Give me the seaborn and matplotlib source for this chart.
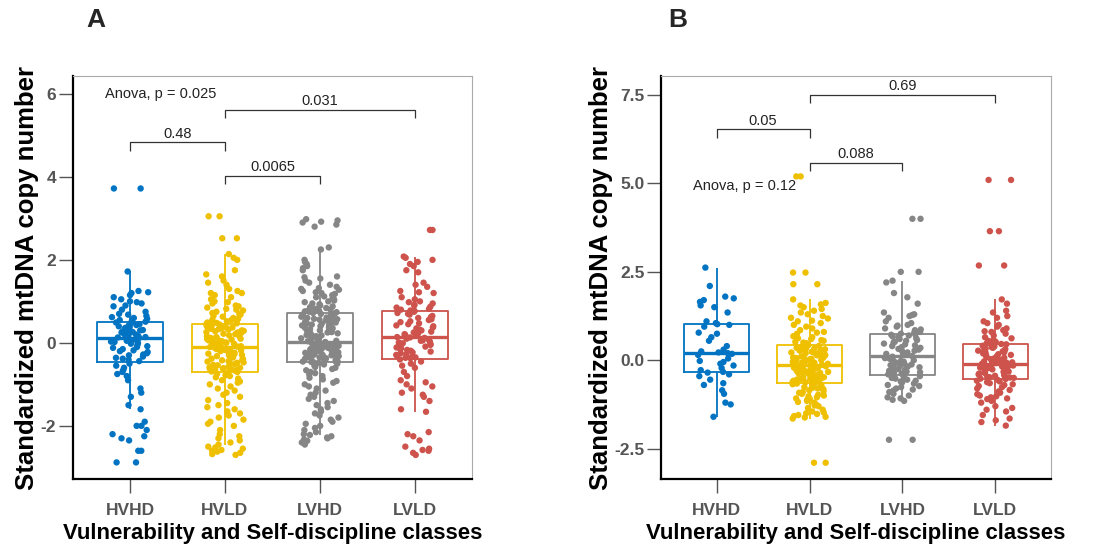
import numpy as np
import pandas as pd
import matplotlib
matplotlib.use("Agg")
import matplotlib.pyplot as plt
import seaborn as sns

classes = ["HVHD", "HVLD", "LVHD", "LVLD"]
colors = ["#0073C2", "#EFC000", "#868686", "#CD534C"]

# ---------------- Panel A values ----------------
a_hvhd = [
    3.72, 3.72, 1.72, 1.25, 1.22, 1.20, 1.15, 1.10, 1.05, 1.00,
    0.98, 0.95, 0.90, 0.88, 0.80, 0.75, 0.70, 0.68, 0.65, 0.62,
    0.60, 0.58, 0.55, 0.53, 0.51,
    0.49, 0.47, 0.45, 0.43, 0.42, 0.40, 0.38, 0.36, 0.35, 0.33,
    0.31, 0.30, 0.28, 0.26, 0.25, 0.23, 0.22, 0.20, 0.19, 0.18,
    0.16, 0.15, 0.14, 0.13, 0.12,
    0.11, 0.10, 0.08, 0.06, 0.05, 0.03, 0.02, 0.00, -0.02, -0.05,
    -0.08, -0.10, -0.12, -0.15, -0.18, -0.20, -0.22, -0.25, -0.28, -0.30,
    -0.33, -0.36, -0.38, -0.41, -0.44,
    -0.50, -0.55, -0.60, -0.65, -0.70, -0.75, -0.80, -0.90, -1.10, -1.20,
    -1.30, -1.50, -1.60, -1.90, -2.00, -2.00, -2.10, -2.20, -2.25, -2.30,
    -2.35, -2.60, -2.60, -2.88, -2.88,
]
a_hvld = [
    3.05, 3.05, 2.52, 2.52, 2.14, 2.05, 2.00, 1.75, 1.65, 1.60,
    1.50, 1.45, 1.40, 1.30, 1.25, 1.20, 1.20, 1.15, 1.10, 1.05,
    1.00, 0.98, 0.95, 0.90, 0.88, 0.85, 0.82, 0.80, 0.78, 0.75,
    0.72, 0.70, 0.68, 0.65, 0.63, 0.60, 0.58, 0.56, 0.55, 0.53,
    0.52, 0.50, 0.49, 0.48, 0.47,
    0.46, 0.45, 0.44, 0.42, 0.41, 0.40, 0.38, 0.37, 0.36, 0.34,
    0.33, 0.32, 0.30, 0.29, 0.28, 0.26, 0.25, 0.24, 0.22, 0.21,
    0.20, 0.18, 0.17, 0.16, 0.14, 0.13, 0.12, 0.10, 0.09, 0.08,
    0.06, 0.05, 0.04, 0.02, 0.01, 0.00, -0.01, -0.02, -0.03, -0.04,
    -0.05, -0.06, -0.07, -0.08, -0.09,
    -0.10, -0.11, -0.12, -0.14, -0.15, -0.17, -0.18, -0.20, -0.21, -0.23,
    -0.24, -0.26, -0.27, -0.29, -0.30, -0.32, -0.33, -0.35, -0.36, -0.38,
    -0.39, -0.41, -0.42, -0.44, -0.45, -0.47, -0.48, -0.50, -0.51, -0.53,
    -0.54, -0.56, -0.57, -0.59, -0.60, -0.61, -0.62, -0.63, -0.64, -0.65,
    -0.66, -0.67, -0.68, -0.69, -0.70,
    -0.72, -0.75, -0.78, -0.80, -0.83, -0.86, -0.90, -0.93, -0.96, -1.00,
    -1.05, -1.10, -1.15, -1.20, -1.25, -1.30, -1.38, -1.45, -1.50, -1.55,
    -1.60, -1.65, -1.70, -1.75, -1.80, -1.85, -1.90, -1.95, -2.00, -2.10,
    -2.20, -2.25, -2.30, -2.35, -2.40, -2.45, -2.50, -2.52, -2.55, -2.58,
    -2.60, -2.62, -2.65, -2.68, -2.70,
]
a_lvhd = [
    2.98, 2.95, 2.92, 2.90, 2.85, 2.80, 2.30, 2.25, 2.00, 1.95,
    1.90, 1.85, 1.80, 1.75, 1.60, 1.58, 1.55, 1.50, 1.45, 1.40,
    1.35, 1.32, 1.30, 1.28, 1.25, 1.22, 1.20, 1.18, 1.15, 1.12,
    1.10, 1.08, 1.05, 1.02, 1.00, 0.98, 0.95, 0.93, 0.90, 0.88,
    0.86, 0.84, 0.82, 0.80, 0.78, 0.77, 0.76, 0.75, 0.74, 0.72,
    0.71, 0.70, 0.68, 0.67, 0.65, 0.64, 0.63, 0.61, 0.60, 0.58,
    0.57, 0.56, 0.54, 0.53, 0.51, 0.50, 0.49, 0.47, 0.46, 0.44,
    0.43, 0.42, 0.40, 0.39, 0.37, 0.36, 0.35, 0.33, 0.32, 0.30,
    0.29, 0.28, 0.26, 0.25, 0.23, 0.22, 0.21, 0.19, 0.18, 0.16,
    0.15, 0.14, 0.12, 0.11, 0.09, 0.08, 0.07, 0.05, 0.04, 0.02,
    0.01, 0.00, -0.01, -0.02, -0.03, -0.04, -0.05, -0.06, -0.07, -0.08,
    -0.09, -0.10, -0.11, -0.12, -0.13, -0.14, -0.15, -0.16, -0.17, -0.18,
    -0.19, -0.20, -0.21, -0.22, -0.23, -0.24, -0.25, -0.26, -0.27, -0.28,
    -0.29, -0.30, -0.31, -0.32, -0.33, -0.34, -0.35, -0.36, -0.37, -0.38,
    -0.39, -0.40, -0.41, -0.42, -0.43, -0.44, -0.45, -0.45, -0.46, -0.46,
    -0.48, -0.50, -0.52, -0.55, -0.58, -0.60, -0.63, -0.66, -0.70, -0.73,
    -0.76, -0.80, -0.84, -0.88, -0.92, -0.96, -1.00, -1.05, -1.10, -1.15,
    -1.20, -1.25, -1.30, -1.35, -1.40, -1.45, -1.50, -1.55, -1.60, -1.65,
    -1.70, -1.75, -1.80, -1.85, -1.90, -1.95, -2.00, -2.05, -2.10, -2.15,
    -2.20, -2.22, -2.25, -2.28, -2.30, -2.33, -2.36, -2.40, -2.42, -2.45,
]
a_lvld = [
    2.72, 2.72, 2.08, 2.05, 2.00, 1.95, 1.90, 1.85, 1.75, 1.70,
    1.45, 1.40, 1.35, 1.25, 1.22, 1.20, 1.10, 1.05, 1.00, 0.98,
    0.95, 0.92, 0.90, 0.87, 0.85, 0.82, 0.80, 0.78,
    0.77, 0.75, 0.72, 0.70, 0.68, 0.65, 0.62, 0.60, 0.57, 0.55,
    0.52, 0.50, 0.47, 0.45, 0.42, 0.40, 0.37, 0.35, 0.32, 0.30,
    0.27, 0.25, 0.23, 0.21, 0.19, 0.17, 0.16, 0.14,
    0.13, 0.12, 0.10, 0.08, 0.06, 0.05, 0.03, 0.01, -0.01, -0.03,
    -0.05, -0.07, -0.09, -0.11, -0.13, -0.15, -0.17, -0.19, -0.21, -0.23,
    -0.25, -0.27, -0.29, -0.31, -0.33, -0.35, -0.36, -0.37,
    -0.40, -0.45, -0.50, -0.55, -0.60, -0.70, -0.80, -0.90, -0.95, -1.00,
    -1.05, -1.10, -1.20, -1.25, -1.30, -1.40, -1.60, -1.66, -2.15, -2.20,
    -2.25, -2.35, -2.50, -2.55, -2.58, -2.60, -2.65, -2.70,
]

# ---------------- Panel B values ----------------
b_hvhd = [
    2.62, 2.10, 1.80, 1.75, 1.70, 1.65, 1.55, 1.50, 1.35, 1.10, 1.05,
    1.02, 1.00, 0.95, 0.78, 0.75, 0.65, 0.55, 0.40, 0.30, 0.25, 0.22,
    0.20, 0.18, 0.15, 0.05, -0.02, -0.05, -0.10, -0.15, -0.22, -0.28, -0.33,
    -0.35, -0.40, -0.45, -0.55, -0.65, -0.70, -0.85, -0.95, -1.20, -1.25, -1.60,
]
b_hvld = [
    5.20, 5.20, 2.48, 2.48, 2.15, 2.15, 1.72, 1.62, 1.58, 1.55,
    1.50, 1.45, 1.40, 1.35, 1.30, 1.25, 1.20, 1.18, 1.12, 1.10,
    1.05, 1.00, 0.95, 0.90, 0.85, 0.80, 0.78, 0.75, 0.70, 0.68,
    0.65, 0.62, 0.60, 0.57, 0.55, 0.52, 0.50, 0.48, 0.45, 0.43,
    0.42, 0.41, 0.39, 0.38, 0.36, 0.35, 0.34, 0.32, 0.31, 0.29,
    0.28, 0.27, 0.25, 0.24, 0.22, 0.21, 0.20, 0.18, 0.17, 0.15,
    0.14, 0.13, 0.11, 0.10, 0.08, 0.07, 0.06, 0.04, 0.03, 0.01,
    0.00, -0.01, -0.03, -0.04, -0.06, -0.07, -0.08, -0.10, -0.11, -0.12,
    -0.13, -0.14, -0.16, -0.17, -0.18, -0.20, -0.21, -0.22, -0.24, -0.25,
    -0.26, -0.28, -0.29, -0.30, -0.32, -0.33, -0.34, -0.36, -0.37, -0.38,
    -0.40, -0.41, -0.42, -0.44, -0.45, -0.46, -0.48, -0.49, -0.50, -0.52,
    -0.53, -0.54, -0.56, -0.57, -0.58, -0.60, -0.61, -0.62, -0.63, -0.64,
    -0.66, -0.68, -0.70, -0.72, -0.74, -0.76, -0.78, -0.80, -0.82, -0.85,
    -0.88, -0.90, -0.92, -0.95, -0.98, -1.00, -1.02, -1.05, -1.08, -1.10,
    -1.12, -1.15, -1.18, -1.20, -1.25, -1.28, -1.30, -1.35, -1.40, -1.45,
    -1.48, -1.50, -1.52, -1.55, -1.58, -1.60, -1.62, -1.65, -2.90, -2.90,
]
b_lvhd = [
    4.00, 4.00, 2.50, 2.50, 2.25, 2.20, 1.90, 1.78, 1.60, 1.35,
    1.30, 1.28, 1.25, 1.20, 1.10, 1.05, 1.00, 0.98, 0.95, 0.90,
    0.87, 0.85, 0.80, 0.78, 0.75,
    0.73, 0.72, 0.70, 0.67, 0.65, 0.62, 0.60, 0.57, 0.55, 0.52,
    0.50, 0.47, 0.45, 0.42, 0.40, 0.37, 0.35, 0.32, 0.30, 0.27,
    0.25, 0.22, 0.18, 0.15, 0.12,
    0.10, 0.08, 0.06, 0.04, 0.02, 0.00, -0.02, -0.04, -0.06, -0.08,
    -0.10, -0.12, -0.14, -0.16, -0.18, -0.20, -0.22, -0.25, -0.27, -0.30,
    -0.32, -0.34, -0.36, -0.38, -0.40,
    -0.42, -0.45, -0.48, -0.50, -0.52, -0.55, -0.58, -0.60, -0.63, -0.66,
    -0.70, -0.73, -0.76, -0.80, -0.83, -0.86, -0.90, -0.95, -1.00, -1.05,
    -1.08, -1.12, -1.15, -2.25, -2.25,
]
b_lvld = [
    5.10, 5.10, 3.65, 3.65, 2.68, 2.68, 1.72, 1.60, 1.40, 1.35,
    1.25, 1.20, 1.10, 1.05, 1.00, 0.95, 0.90, 0.85, 0.82, 0.80,
    0.75, 0.70, 0.65, 0.62, 0.58, 0.55, 0.52, 0.50, 0.48, 0.46,
    0.45, 0.43, 0.41, 0.39, 0.37, 0.35, 0.33, 0.31, 0.29, 0.27,
    0.25, 0.23, 0.21, 0.19, 0.17, 0.15, 0.13, 0.11, 0.09, 0.07,
    0.05, 0.03, 0.01, -0.01, -0.03, -0.05, -0.06, -0.07, -0.08, -0.09,
    -0.10, -0.11, -0.12, -0.14, -0.15, -0.17, -0.18, -0.20, -0.21, -0.23,
    -0.24, -0.26, -0.27, -0.29, -0.30, -0.32, -0.33, -0.35, -0.36, -0.38,
    -0.40, -0.42, -0.44, -0.46, -0.47, -0.48, -0.49, -0.50, -0.52, -0.53,
    -0.55, -0.58, -0.60, -0.62, -0.65, -0.68, -0.70, -0.73, -0.76, -0.80,
    -0.84, -0.88, -0.92, -0.96, -1.00, -1.02, -1.05, -1.08, -1.10, -1.15,
    -1.20, -1.30, -1.35, -1.40, -1.45, -1.55, -1.65, -1.70, -1.75, -1.85,
]

# comparisons: (group i, group j, bracket height, label)
a_pairs = [(0, 1, 4.83, "0.48"), (1, 2, 4.03, "0.0065"), (1, 3, 5.61, "0.031")]
b_pairs = [(0, 1, 6.53, "0.05"), (1, 2, 5.58, "0.088"), (1, 3, 7.51, "0.69")]
a_anova = "Anova, p = 0.025"
b_anova = "Anova, p = 0.12"

a_yticks = [-2, 0, 2, 4, 6]
a_yticklabels = ["-2", "0", "2", "4", "6"]
b_yticks = [-2.5, 0.0, 2.5, 5.0, 7.5]
b_yticklabels = ["-2.5", "0.0", "2.5", "5.0", "7.5"]

ylabel = "Standardized mtDNA copy number"
xlabel = "Vulnerability and Self-discipline classes"


def to_long(groups):
    rows = []
    for cls, vals in zip(classes, groups):
        rows += [(cls, v) for v in vals]
    return pd.DataFrame(rows, columns=["cls", "val"])


df_a = to_long([a_hvhd, a_hvld, a_lvhd, a_lvld])
df_b = to_long([b_hvhd, b_hvld, b_lvhd, b_lvld])

sns.set_theme(style="white")
plt.rcParams["font.family"] = ["Liberation Sans", "DejaVu Sans"]

np.random.seed(7)

fig = plt.figure(figsize=(11.13, 5.5), dpi=100)
axA = fig.add_axes([73 / 1113, 71 / 550, 399 / 1113, 403 / 550])
axB = fig.add_axes([661 / 1113, 71 / 550, 390 / 1113, 403 / 550])

tick_color = "#555555"


def panel(ax, df, ylim, yticks, yticklabels, pairs, drop, toff, anova, anova_xy):
    sns.boxplot(data=df, x="cls", y="val", hue="cls", order=classes,
                hue_order=classes, palette=colors, fill=False, width=0.7,
                linewidth=1.3, showfliers=False, showcaps=False,
                medianprops={"linewidth": 2.4}, legend=False, ax=ax)
    sns.stripplot(data=df, x="cls", y="val", hue="cls", order=classes,
                  hue_order=classes, palette=colors, jitter=0.2, size=4.6,
                  linewidth=0, legend=False, zorder=3, ax=ax)
    ax.set_xlim(-0.6, 3.6)
    ax.set_ylim(*ylim)
    ax.set_yticks(yticks)
    ax.set_yticklabels(yticklabels)
    ax.tick_params(axis="both", which="major", length=10, width=1.0,
                   color=tick_color, labelcolor=tick_color, labelsize=12.5,
                   direction="out", left=True, bottom=True)
    ax.tick_params(axis="x", pad=7)
    ax.tick_params(axis="y", pad=2)
    for lab in ax.get_xticklabels() + ax.get_yticklabels():
        lab.set_fontweight("bold")
    for s in ["left", "bottom"]:
        ax.spines[s].set_color("black")
        ax.spines[s].set_linewidth(1.6)
    for s in ["top", "right"]:
        ax.spines[s].set_color("#aaaaaa")
        ax.spines[s].set_linewidth(0.8)
    ax.set_xlabel(xlabel, fontsize=15.9, fontweight="bold", color="black", labelpad=4)
    ax.set_ylabel(ylabel, fontsize=18.5, fontweight="bold", color="black", labelpad=1)
    for i, j, y, lab in pairs:
        ax.plot([i, i, j, j], [y - drop, y, y, y - drop], color="#333333", lw=0.9,
                solid_capstyle="butt", zorder=4)
        ax.text((i + j) / 2, y + toff, lab, ha="center", va="center",
                fontsize=10.5, color="#222222")
    ax.text(anova_xy[0], anova_xy[1], anova, ha="center", va="center",
            fontsize=10.5, color="#222222")


panel(axA, df_a, (-3.28, 6.43), a_yticks, a_yticklabels, a_pairs, 0.2, 0.21,
      a_anova, (0.32, 6.0))
panel(axB, df_b, (-3.36, 8.04), b_yticks, b_yticklabels, b_pairs, 0.23, 0.25,
      b_anova, (0.30, 4.94))

fig.text(96 / 1113, 1 - 20 / 550, "A", fontsize=19, fontweight="bold",
         ha="center", va="center")
fig.text(678 / 1113, 1 - 20 / 550, "B", fontsize=19, fontweight="bold",
         ha="center", va="center")

fig.savefig("out.png", dpi=100)
